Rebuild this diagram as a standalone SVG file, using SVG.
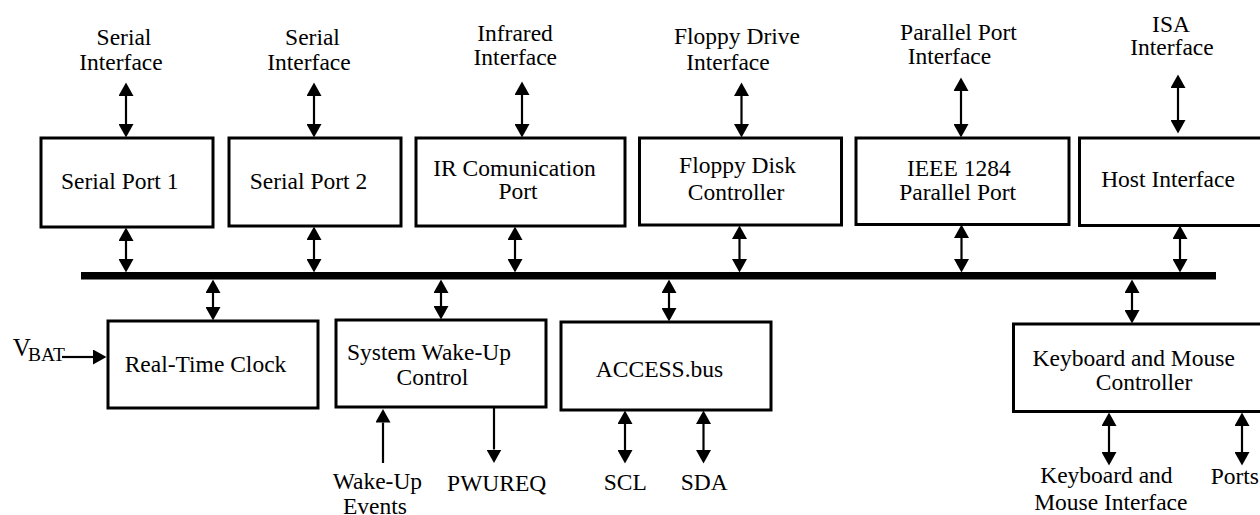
<svg xmlns="http://www.w3.org/2000/svg" width="1260" height="515" viewBox="0 0 1260 515">
<style>
.box{fill:#fff;stroke:#000;stroke-width:3}
.ln{stroke:#000;stroke-width:2.2;fill:none}
.dbl{stroke:#000;stroke-width:2.2;fill:none;marker-start:url(#ah);marker-end:url(#ah)}
.one{stroke:#000;stroke-width:2.2;fill:none;marker-end:url(#ah)}
text{font-family:"Liberation Serif","Times New Roman",serif;font-size:23.5px;fill:#000;text-anchor:middle}
</style>
<defs>
<marker id="ah" markerUnits="userSpaceOnUse" markerWidth="14" markerHeight="15" refX="0" refY="7.5" orient="auto-start-reverse" viewBox="0 0 14 15">
<path d="M0,0 L13.5,7.5 L0,15 z" fill="#000"/>
</marker>
</defs>
<rect width="1260" height="515" fill="#fff"/>

<g id="connectors">
<rect id="bus" x="81" y="272" width="1135" height="7.5" fill="#000"/>
<!-- interface to top boxes -->
<line class="dbl" x1="126" y1="96" x2="126" y2="124"/>
<line class="dbl" x1="314" y1="96" x2="314" y2="124"/>
<line class="dbl" x1="522" y1="95" x2="522" y2="124"/>
<line class="dbl" x1="741.5" y1="96" x2="741.5" y2="124"/>
<line class="dbl" x1="961" y1="91" x2="961" y2="124"/>
<line class="dbl" x1="1178" y1="88" x2="1178" y2="120"/>
<!-- top boxes to bus -->
<line class="dbl" x1="126" y1="241" x2="126" y2="259"/>
<line class="dbl" x1="314" y1="240" x2="314" y2="259"/>
<line class="dbl" x1="515" y1="240" x2="515" y2="259"/>
<line class="dbl" x1="739.5" y1="239" x2="739.5" y2="259"/>
<line class="dbl" x1="961.5" y1="238" x2="961.5" y2="259"/>
<line class="dbl" x1="1180" y1="239" x2="1180" y2="259"/>
<!-- bus to bottom boxes -->
<line class="dbl" x1="213" y1="293" x2="213" y2="307"/>
<line class="dbl" x1="441" y1="293" x2="441" y2="306"/>
<line class="dbl" x1="669" y1="293" x2="669" y2="308"/>
<line class="dbl" x1="1132" y1="293" x2="1132" y2="310"/>
<!-- bottom signals -->
<line class="one" x1="383" y1="463" x2="383" y2="422.5"/>
<line class="one" x1="494" y1="408" x2="494" y2="449.5"/>
<line class="dbl" x1="625" y1="424" x2="625" y2="450"/>
<line class="dbl" x1="703.5" y1="424" x2="703.5" y2="450"/>
<line class="dbl" x1="1109" y1="426" x2="1109" y2="452"/>
<line class="dbl" x1="1242" y1="426" x2="1242" y2="452"/>
<line class="one" x1="62" y1="357" x2="93" y2="357"/>
</g>

<g id="serial-interface-1"><text x="124" y="45">Serial</text><text x="121" y="69.5">Interface</text></g>
<g id="serial-interface-2"><text x="312.5" y="45">Serial</text><text x="309" y="69.5">Interface</text></g>
<g id="infrared-interface"><text x="515" y="40.5">Infrared</text><text x="515.3" y="65.3">Interface</text></g>
<g id="floppy-drive-interface"><text x="737" y="44">Floppy Drive</text><text x="728" y="70">Interface</text></g>
<g id="parallel-port-interface"><text x="958.5" y="40">Parallel Port</text><text x="949.5" y="64.3">Interface</text></g>
<g id="isa-interface"><text x="1171" y="31.7">ISA</text><text x="1172" y="55">Interface</text></g>

<g id="serial-port-1"><rect class="box" x="41" y="138" width="172" height="89"/><text x="119.7" y="189">Serial Port 1</text></g>
<g id="serial-port-2"><rect class="box" x="229" y="138" width="172" height="88"/><text x="308.5" y="189">Serial Port 2</text></g>
<g id="ir-port"><rect class="box" x="416" y="138" width="209" height="88"/><text x="514.5" y="175.7">IR Comunication</text><text x="518" y="199.3">Port</text></g>
<g id="floppy-disk-controller"><rect class="box" x="639.5" y="138" width="202" height="87"/><text x="737.5" y="173.3">Floppy Disk</text><text x="736" y="200">Controller</text></g>
<g id="ieee-1284"><rect class="box" x="856" y="138" width="213" height="86.5"/><text x="958.8" y="176">IEEE 1284</text><text x="957.7" y="200">Parallel Port</text></g>
<g id="host-interface"><rect class="box" x="1079.5" y="138" width="190" height="87.5"/><text x="1168" y="187.3">Host Interface</text></g>

<g id="real-time-clock"><rect class="box" x="108" y="321" width="210" height="87"/><text x="205.5" y="372">Real-Time Clock</text></g>
<g id="vbat"><text x="12.7" y="356" style="text-anchor:start;font-size:25px">V</text><text x="28" y="361" style="text-anchor:start;font-size:19.5px">BAT</text></g>
<g id="system-wake-up"><rect class="box" x="336" y="320" width="210" height="87"/><text x="429" y="360">System Wake-Up</text><text x="432.5" y="385">Control</text></g>
<g id="access-bus"><rect class="box" x="561" y="322" width="210" height="88"/><text x="659.5" y="377.3">ACCESS.bus</text></g>
<g id="keyboard-mouse-controller"><rect class="box" x="1013.5" y="324" width="256" height="87.5"/><text x="1133.7" y="366">Keyboard and Mouse</text><text x="1144" y="390">Controller</text></g>

<g id="wake-up-events"><text x="377.4" y="489.3">Wake-Up</text><text x="375" y="514">Events</text></g>
<g id="pwureq"><text x="496.7" y="490.7">PWUREQ</text></g>
<g id="scl"><text x="625.3" y="490">SCL</text></g>
<g id="sda"><text x="704.2" y="490">SDA</text></g>
<g id="kbd-mouse-interface"><text x="1106.4" y="482.7">Keyboard and</text><text x="1110.8" y="510">Mouse Interface</text></g>
<g id="ports"><text x="1210.7" y="484" style="text-anchor:start">Ports</text></g>
</svg>
